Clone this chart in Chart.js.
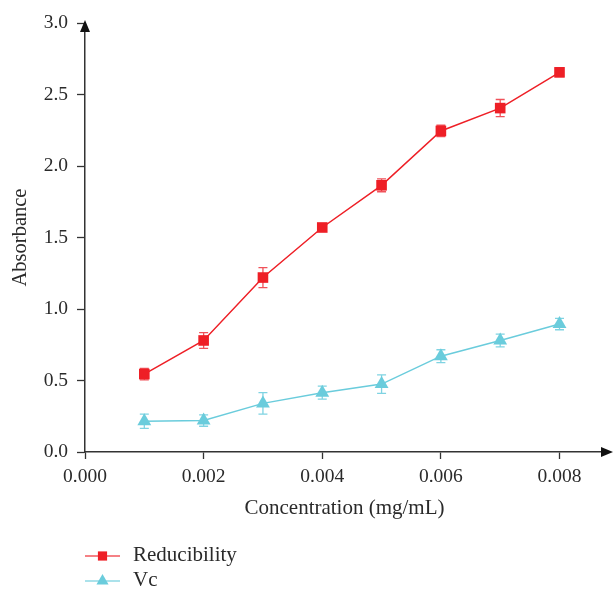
<!DOCTYPE html>
<html>
<head>
<meta charset="utf-8">
<script src="https://cdn.jsdelivr.net/npm/chart.js@4.4.3/dist/chart.umd.min.js"></script>
<style>
  html, body { margin: 0; padding: 0; background: #fff; }
  #wrap { width: 614px; height: 590px; }
</style>
</head>
<body>
<div id="wrap"><canvas id="chart" width="614" height="590"></canvas></div>
<script>
// concentrations in mg/mL
const concentration = [0.001, 0.002, 0.003, 0.004, 0.005, 0.006, 0.007, 0.008];
const reducibility = [0.545, 0.78, 1.22, 1.57, 1.865, 2.245, 2.405, 2.655];
const reducibilityErr = [0.04, 0.055, 0.07, 0.025, 0.045, 0.04, 0.06, 0.03];
const vc = [0.215, 0.22, 0.34, 0.415, 0.475, 0.67, 0.78, 0.895];
const vcErr = [0.05, 0.04, 0.075, 0.045, 0.065, 0.045, 0.045, 0.04];
const seriesNames = ['Reducibility', 'Vc'];

const RED = '#ee1f26';
const CYAN = '#6accdc';
const FONT = '"Liberation Serif", "DejaVu Serif", serif';
const AXIS = '#333';
const TEXT = '#2a2a2a';

// error bars, axis arrows and the stacked legend
const extras = {
  id: 'extras',
  beforeDatasetsDraw(chart) {
    const ctx = chart.ctx;
    const xs = chart.scales.x, ys = chart.scales.y;
    const sets = [[reducibility, reducibilityErr, '#f0525a'], [vc, vcErr, '#7fd3e2']];
    ctx.save();
    ctx.lineWidth = 1.3;
    sets.forEach(([vals, errs, col]) => {
      ctx.strokeStyle = col;
      vals.forEach((v, i) => {
        const x = xs.getPixelForValue(concentration[i]);
        const y1 = ys.getPixelForValue(v + errs[i]);
        const y2 = ys.getPixelForValue(v - errs[i]);
        ctx.beginPath();
        ctx.moveTo(x, y1); ctx.lineTo(x, y2);
        ctx.moveTo(x - 4.5, y1); ctx.lineTo(x + 4.5, y1);
        ctx.moveTo(x - 4.5, y2); ctx.lineTo(x + 4.5, y2);
        ctx.stroke();
      });
    });
    ctx.restore();
  },
  afterDraw(chart) {
    const ctx = chart.ctx;
    const a = chart.chartArea;
    ctx.save();
    ctx.fillStyle = '#111';
    // y arrow
    ctx.beginPath();
    ctx.moveTo(a.left, a.top - 3);
    ctx.lineTo(a.left - 5, a.top + 9);
    ctx.lineTo(a.left + 5, a.top + 9);
    ctx.closePath();
    ctx.fill();
    // x arrow
    ctx.beginPath();
    ctx.moveTo(a.right + 9, a.bottom);
    ctx.lineTo(a.right - 3, a.bottom - 5);
    ctx.lineTo(a.right - 3, a.bottom + 5);
    ctx.closePath();
    ctx.fill();

    // legend
    const rows = [[seriesNames[0], RED, 'rect', 556], [seriesNames[1], CYAN, 'triangle', 581]];
    ctx.font = '21px ' + FONT;
    ctx.textBaseline = 'middle';
    rows.forEach(([label, col, shape, y]) => {
      ctx.strokeStyle = col;
      ctx.globalAlpha = 0.75;
      ctx.lineWidth = 1.5;
      ctx.beginPath();
      ctx.moveTo(85, y); ctx.lineTo(120, y);
      ctx.stroke();
      ctx.globalAlpha = 1;
      ctx.fillStyle = col;
      Chart.helpers.drawPoint(ctx, { pointStyle: shape, radius: shape === 'rect' ? 6.5 : 7, borderWidth: 0 }, 102.5, y);
      ctx.fillStyle = TEXT;
      ctx.fillText(label, 133, y - 1);
    });
    ctx.restore();
  }
};

new Chart(document.getElementById('chart'), {
  type: 'line',
  data: {
    datasets: [
      {
        label: seriesNames[0],
        data: concentration.map((c, i) => ({ x: c, y: reducibility[i] })),
        borderColor: RED,
        backgroundColor: RED,
        borderWidth: 1.5,
        pointStyle: 'rect',
        pointRadius: 7.5,
        pointBorderWidth: 0,
        tension: 0
      },
      {
        label: seriesNames[1],
        data: concentration.map((c, i) => ({ x: c, y: vc[i] })),
        borderColor: CYAN,
        backgroundColor: CYAN,
        borderWidth: 1.5,
        pointStyle: 'triangle',
        pointRadius: 8,
        pointBorderWidth: 0,
        tension: 0
      }
    ]
  },
  options: {
    responsive: false,
    animation: false,
    layout: { padding: { top: 23, right: 10, bottom: 69, left: 0 } },
    plugins: { legend: { display: false }, tooltip: { enabled: false } },
    scales: {
      x: {
        type: 'linear',
        min: 0,
        max: 0.00875,
        afterFit: s => { s.height = 69; },
        border: { display: true, color: AXIS, width: 1.5 },
        grid: { drawOnChartArea: false, drawTicks: true, tickLength: 7, color: AXIS, tickWidth: 1.3 },
        ticks: {
          stepSize: 0.002,
          includeBounds: false,
          padding: 6,
          color: TEXT,
          font: { family: FONT, size: 19.5 },
          maxRotation: 0,
          callback: v => Number(v).toFixed(3)
        },
        title: {
          display: true,
          text: 'Concentration (mg/mL)',
          color: TEXT,
          font: { family: FONT, size: 21 },
          padding: { top: 6, bottom: 0 }
        }
      },
      y: {
        min: 0,
        max: 3,
        afterFit: s => { s.width = 85; },
        border: { display: true, color: AXIS, width: 1.5 },
        grid: { drawOnChartArea: false, drawTicks: true, tickLength: 8, color: AXIS, tickWidth: 1.3 },
        ticks: {
          stepSize: 0.5,
          padding: 9,
          color: TEXT,
          font: { family: FONT, size: 19.5 },
          callback: v => Number(v).toFixed(1)
        },
        title: {
          display: true,
          text: 'Absorbance',
          color: TEXT,
          font: { family: FONT, size: 20.5 },
          padding: { top: 8, bottom: 0 }
        }
      }
    }
  },
  plugins: [extras]
});
</script>
</body>
</html>
